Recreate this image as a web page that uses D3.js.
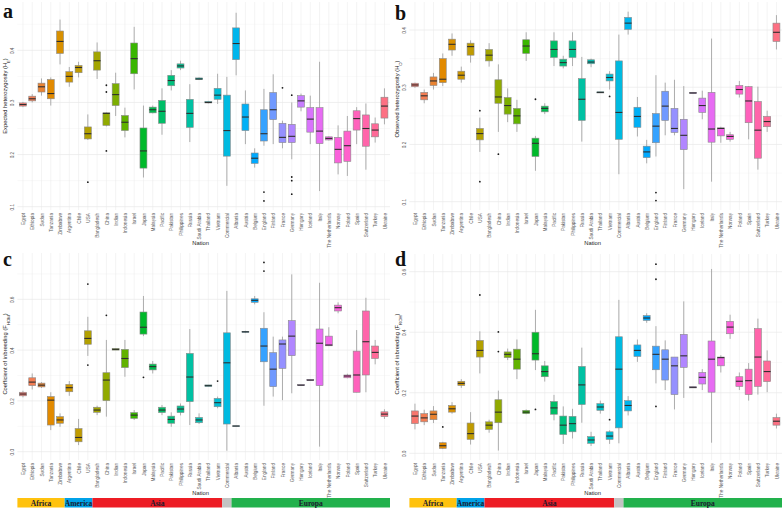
<!DOCTYPE html>
<html>
<head>
<meta charset="utf-8">
<script src="https://cdn.jsdelivr.net/npm/d3@7"></script>
<style>
body { margin: 0; background: #fff; }
text { font-family: "Liberation Sans", Arial, sans-serif; }
</style>
</head>
<body>
<div id="chart"></div>
<script>
var nations = ['Egypt', 'Ethiopia', 'Sudan', 'Tanzania', 'Zimbabwe', 'Argentina', 'Chile', 'USA',
    'Bangladesh', 'China', 'Indian', 'Indonesia', 'Israel', 'Japan', 'Malaysia', 'Pacific',
    'Pakistan', 'Philippines', 'Russia', 'Saudi Arabia', 'Thailand', 'Vietnam', 'Commercial',
    'Albania', 'Austria', 'Belgium', 'England', 'Finland', 'France', 'Germany', 'Hungary',
    'Iceland', 'Italy', 'The Netherlands', 'Norway', 'Poland', 'Spain', 'Switzerland', 'Turkey', 'Ukraine'];

var continents = ['Africa', 'America', 'Asia', '', 'Europa'];
var continentSizes = [5, 3, 14, 1, 17];

// [lower whisker, q1, median, q3, upper whisker] per nation
var expHet = [
    [0.291,0.293,0.296,0.299,0.301], [0.300,0.303,0.307,0.312,0.316], [0.313,0.320,0.330,0.337,0.346],
    [0.294,0.307,0.317,0.344,0.348], [0.373,0.394,0.417,0.437,0.459], [0.330,0.339,0.350,0.359,0.368],
    [0.348,0.357,0.367,0.371,0.378], [0.228,0.230,0.240,0.253,0.277], [0.345,0.362,0.380,0.397,0.415],
    [0.254,0.256,0.279,0.280,0.281], [0.274,0.294,0.315,0.336,0.357], [0.233,0.246,0.262,0.275,0.290],
    [0.325,0.355,0.384,0.414,0.445], [0.156,0.174,0.207,0.251,0.294], [0.279,0.280,0.286,0.291,0.294],
    [0.238,0.260,0.283,0.304,0.327], [0.323,0.332,0.342,0.352,0.362], [0.362,0.366,0.370,0.374,0.380],
    [0.224,0.252,0.279,0.306,0.335], [0.343,0.344,0.345,0.347,0.348], [0.298,0.299,0.300,0.302,0.303],
    [0.297,0.306,0.314,0.327,0.355], [0.140,0.197,0.246,0.314,0.349], [0.352,0.382,0.413,0.443,0.472],
    [0.220,0.246,0.272,0.297,0.323], [0.175,0.183,0.193,0.203,0.212], [0.217,0.226,0.240,0.286,0.326],
    [0.220,0.267,0.286,0.319,0.354], [0.212,0.223,0.233,0.260,0.265], [0.191,0.223,0.235,0.258,0.300],
    [0.283,0.291,0.303,0.313,0.317], [0.220,0.243,0.268,0.290,0.313], [0.130,0.221,0.245,0.290,0.378],
    [0.227,0.228,0.231,0.234,0.235], [0.162,0.184,0.210,0.233,0.256], [0.159,0.187,0.217,0.245,0.274],
    [0.220,0.247,0.269,0.284,0.291], [0.171,0.216,0.250,0.276,0.298], [0.223,0.234,0.247,0.259,0.271],
    [0.258,0.270,0.293,0.310,0.327]
];
var expHetOut = [['USA',0.147], ['China',0.333], ['China',0.320], ['China',0.207], ['England',0.128],
    ['England',0.111], ['France',0.328], ['Germany',0.314], ['Germany',0.157], ['Germany',0.150], ['Germany',0.124]];

var obsHet = [
    [0.299,0.301,0.304,0.307,0.308], [0.272,0.278,0.285,0.291,0.296], [0.296,0.303,0.311,0.318,0.325],
    [0.302,0.308,0.314,0.350,0.359], [0.355,0.365,0.375,0.384,0.394], [0.308,0.314,0.321,0.328,0.336],
    [0.343,0.356,0.371,0.377,0.382], [0.187,0.208,0.219,0.228,0.247], [0.336,0.346,0.356,0.366,0.377],
    [0.222,0.272,0.283,0.313,0.340], [0.239,0.253,0.268,0.282,0.298], [0.222,0.236,0.250,0.263,0.278],
    [0.346,0.359,0.372,0.383,0.396], [0.154,0.179,0.202,0.211,0.215], [0.253,0.257,0.263,0.267,0.272],
    [0.337,0.352,0.366,0.381,0.396], [0.333,0.337,0.343,0.349,0.355], [0.337,0.352,0.366,0.381,0.396],
    [0.205,0.242,0.279,0.315,0.353], [0.335,0.341,0.344,0.348,0.350], [0.290,0.290,0.291,0.292,0.292],
    [0.296,0.311,0.317,0.323,0.328], [0.148,0.209,0.256,0.346,0.392], [0.392,0.401,0.412,0.422,0.432],
    [0.214,0.230,0.249,0.265,0.283], [0.167,0.177,0.187,0.197,0.208], [0.179,0.203,0.232,0.254,0.321],
    [0.216,0.242,0.267,0.293,0.308], [0.216,0.221,0.228,0.263,0.313], [0.122,0.191,0.216,0.244,0.302],
    [0.289,0.289,0.290,0.291,0.291], [0.244,0.256,0.268,0.281,0.294], [0.135,0.204,0.227,0.291,0.385],
    [0.203,0.215,0.228,0.229,0.231], [0.205,0.209,0.214,0.217,0.222], [0.282,0.288,0.296,0.303,0.311],
    [0.209,0.238,0.276,0.301,0.302], [0.156,0.176,0.225,0.275,0.301], [0.222,0.231,0.240,0.249,0.259],
    [0.366,0.380,0.396,0.412,0.426]
];
var obsHetOut = [['USA',0.259], ['USA',0.135], ['China',0.183], ['Japan',0.279], ['Vietnam',0.284],
    ['England',0.116], ['England',0.102]];

var fHom = [
    [0.214,0.220,0.227,0.234,0.240], [0.245,0.260,0.274,0.291,0.308], [0.251,0.255,0.262,0.270,0.274],
    [0.085,0.105,0.203,0.217,0.234], [0.098,0.112,0.125,0.138,0.151], [0.220,0.236,0.252,0.265,0.278],
    [0.026,0.039,0.056,0.091,0.129], [0.377,0.423,0.446,0.476,0.531], [0.144,0.155,0.164,0.175,0.181],
    [0.138,0.201,0.282,0.311,0.440], [0.400,0.400,0.403,0.406,0.406], [0.295,0.331,0.367,0.403,0.440],
    [0.125,0.131,0.144,0.154,0.164], [0.455,0.463,0.490,0.550,0.613], [0.308,0.322,0.335,0.345,0.357],
    [0.144,0.154,0.164,0.175,0.184], [0.098,0.112,0.127,0.140,0.155], [0.143,0.154,0.168,0.180,0.190],
    [0.105,0.197,0.294,0.387,0.483], [0.109,0.114,0.125,0.135,0.151], [0.257,0.257,0.260,0.263,0.263],
    [0.171,0.177,0.193,0.210,0.217], [0.004,0.109,0.350,0.468,0.633], [0.100,0.100,0.101,0.102,0.102],
    [0.467,0.470,0.472,0.474,0.476], [0.580,0.588,0.596,0.602,0.613], [0.181,0.354,0.416,0.486,0.549],
    [0.217,0.256,0.325,0.390,0.453], [0.203,0.328,0.424,0.440,0.453], [0.230,0.378,0.455,0.516,0.698],
    [0.260,0.260,0.262,0.264,0.264], [0.280,0.280,0.282,0.284,0.284], [0.020,0.260,0.427,0.483,0.665],
    [0.417,0.417,0.420,0.455,0.490], [0.545,0.554,0.567,0.577,0.588], [0.289,0.291,0.298,0.302,0.307],
    [0.234,0.234,0.302,0.396,0.479], [0.234,0.302,0.433,0.554,0.606], [0.344,0.367,0.391,0.416,0.440],
    [0.129,0.138,0.148,0.157,0.167]
];
var fHomOut = [['USA',0.660], ['USA',0.341], ['China',0.537], ['Japan',0.293], ['Vietnam',0.278],
    ['England',0.745], ['England',0.711]];

var fRoh = [
    [0.079,0.098,0.123,0.140,0.164], [0.093,0.104,0.117,0.131,0.144], [0.100,0.111,0.129,0.140,0.156],
    [0.014,0.016,0.025,0.035,0.038], [0.131,0.136,0.147,0.158,0.169], [0.216,0.224,0.231,0.238,0.245],
    [0.029,0.046,0.065,0.100,0.136], [0.264,0.318,0.340,0.373,0.403], [0.068,0.079,0.093,0.104,0.111],
    [0.009,0.101,0.136,0.177,0.207], [0.308,0.316,0.327,0.335,0.346], [0.245,0.278,0.311,0.344,0.376],
    [0.129,0.131,0.136,0.142,0.145], [0.275,0.308,0.329,0.400,0.474], [0.237,0.253,0.270,0.289,0.305],
    [0.109,0.129,0.150,0.171,0.193], [0.031,0.062,0.093,0.123,0.155], [0.049,0.071,0.098,0.122,0.147],
    [0.101,0.161,0.226,0.287,0.349], [0.024,0.033,0.044,0.055,0.071], [0.131,0.142,0.153,0.164,0.174],
    [0.031,0.046,0.057,0.071,0.076], [0.033,0.084,0.278,0.385,0.507], [0.125,0.140,0.158,0.174,0.189],
    [0.302,0.320,0.340,0.358,0.376], [0.431,0.439,0.447,0.455,0.463], [0.231,0.276,0.327,0.354,0.420],
    [0.209,0.242,0.311,0.342,0.373], [0.145,0.194,0.289,0.318,0.318], [0.183,0.284,0.322,0.393,0.502],
    [0.216,0.216,0.218,0.220,0.220], [0.209,0.229,0.251,0.267,0.278], [0.035,0.202,0.311,0.371,0.609],
    [0.267,0.289,0.316,0.318,0.324], [0.378,0.395,0.417,0.436,0.458], [0.209,0.221,0.238,0.253,0.267],
    [0.174,0.194,0.240,0.278,0.298], [0.194,0.221,0.318,0.412,0.445], [0.202,0.237,0.270,0.305,0.340],
    [0.082,0.093,0.106,0.118,0.131]
];
var fRohOut = [['Tanzania',0.087], ['USA',0.523], ['China',0.401], ['China',0.336], ['Japan',0.145],
    ['Vietnam',0.111], ['England',0.625], ['England',0.575], ['England',0.155]];

var continentColors = ['#FFC20E', '#00A2E8', '#ED1C24', '#C3C3C3', '#22B14C'];

// ggplot-style hue palette (polar LUV -> sRGB)
function hueColor(h) {
    var c = 100, l = 65;
    var hr = h * Math.PI / 180, U = c * Math.cos(hr), V = c * Math.sin(hr);
    var Xn = 95.047, Yn = 100, Zn = 108.883;
    var un = 4 * Xn / (Xn + 15 * Yn + 3 * Zn), vn = 9 * Yn / (Xn + 15 * Yn + 3 * Zn);
    var Y = Yn * Math.pow((l + 16) / 116, 3);
    var u = U / (13 * l) + un, v = V / (13 * l) + vn;
    var X = 9 * Y * u / (4 * v), Z = 3 * Y / v - 5 * Y - X / 3;
    X /= 100; Y /= 100; Z /= 100;
    var r = 3.240479 * X - 1.537150 * Y - 0.498535 * Z;
    var g = -0.969256 * X + 1.875992 * Y + 0.041556 * Z;
    var b = 0.055648 * X - 0.204043 * Y + 1.057311 * Z;
    var gam = function(t) {
        t = t <= 0.0031308 ? 12.92 * t : 1.055 * Math.pow(t, 1 / 2.4) - 0.055;
        return Math.round(255 * Math.max(0, Math.min(1, t)));
    };
    return d3.rgb(gam(r), gam(g), gam(b)).formatHex();
}
var colors = nations.map((n, i) => hueColor(15 + 360 * i / nations.length));

var panels = [
    {letter: 'a', data: expHet, out: expHetOut, title: 'Expected heterozygosity (H', sub: 'E',
     x0: 0, top: 2, bottom: 210, cal: [0.1, 0.4], calPx: [206.7, 50.3], step: 0.1, titleY: 96, letterY: 18},
    {letter: 'b', data: obsHet, out: obsHetOut, title: 'Observed heterozygosity (H', sub: 'O',
     x0: 392, top: 2, bottom: 210, cal: [0.1, 0.4], calPx: [201.7, 30], step: 0.1, titleY: 99, letterY: 20},
    {letter: 'c', data: fHom, out: fHomOut, title: 'Coefficient of inbreeding (F', sub: 'HOM',
     x0: 0, top: 253, bottom: 460, cal: [0, 0.6], calPx: [451.7, 299.3], step: 0.2, titleY: 354, letterY: 266},
    {letter: 'd', data: fRoh, out: fRohOut, title: 'Coefficient of inbreeding (F', sub: 'ROH',
     x0: 392, top: 254, bottom: 460, cal: [0, 0.6], calPx: [453.3, 271.7], step: 0.2, titleY: 354, letterY: 266}
];

var svg = d3.select('#chart')
    .append('svg')
    .attr('width', 784)
    .attr('height', 508);

svg.append('rect').attr('width', 784).attr('height', 508).attr('fill', '#fff');

panels.forEach(function(p) {
    var g = svg.append('g');
    var left = p.x0 + 17.4, right = p.x0 + 390;

    var xScale = d3.scalePoint().domain(nations).range([left, right]).padding(0.6);
    var yScale = d3.scaleLinear().domain(p.cal).range(p.calPx);
    var step = xScale.step();
    var bw = step * 0.75;

    // grid
    var lowV = yScale.invert(p.bottom), highV = yScale.invert(p.top);
    var half = p.step / 2;
    var ks = d3.range(Math.ceil(lowV / half - 1e-9), Math.floor(highV / half + 1e-9) + 1);
    var majors = ks.filter(k => k % 2 === 0).map(k => +(k * half).toFixed(3));
    var minors = ks.filter(k => k % 2 !== 0).map(k => +(k * half).toFixed(3));

    g.selectAll('.minor').data(minors).enter().append('line')
        .attr('x1', left).attr('x2', right)
        .attr('y1', d => yScale(d)).attr('y2', d => yScale(d))
        .attr('stroke', '#f2f2f2').attr('stroke-width', 0.5);
    g.selectAll('.major').data(majors).enter().append('line')
        .attr('x1', left).attr('x2', right)
        .attr('y1', d => yScale(d)).attr('y2', d => yScale(d))
        .attr('stroke', '#e4e4e4').attr('stroke-width', 0.6);
    g.selectAll('.vgrid').data(nations).enter().append('line')
        .attr('x1', d => xScale(d)).attr('x2', d => xScale(d))
        .attr('y1', p.top).attr('y2', p.bottom)
        .attr('stroke', '#e8e8e8').attr('stroke-width', 0.5);

    // boxes
    var boxes = g.selectAll('.box').data(p.data).enter().append('g');
    boxes.append('line')
        .attr('x1', (d, i) => xScale(nations[i])).attr('x2', (d, i) => xScale(nations[i]))
        .attr('y1', d => yScale(d[0])).attr('y2', d => yScale(d[4]))
        .attr('stroke', '#9a9a9a').attr('stroke-width', 0.8);
    boxes.append('rect')
        .attr('x', (d, i) => xScale(nations[i]) - bw / 2)
        .attr('width', bw)
        .attr('y', d => yScale(d[3]))
        .attr('height', d => Math.max(0.6, yScale(d[1]) - yScale(d[3])))
        .attr('fill', (d, i) => colors[i])
        .attr('stroke', '#8a8a8a').attr('stroke-width', 0.6);
    boxes.append('line')
        .attr('x1', (d, i) => xScale(nations[i]) - bw / 2).attr('x2', (d, i) => xScale(nations[i]) + bw / 2)
        .attr('y1', d => yScale(d[2])).attr('y2', d => yScale(d[2]))
        .attr('stroke', '#2e2e2e').attr('stroke-width', 1.1);

    g.selectAll('.out').data(p.out).enter().append('circle')
        .attr('cx', d => xScale(d[0])).attr('cy', d => yScale(d[1]))
        .attr('r', 0.9).attr('fill', '#1a1a1a');

    // axes
    var xAxis = g.append('g')
        .attr('transform', `translate(0, ${p.bottom})`)
        .call(d3.axisBottom(xScale).tickSize(0));
    xAxis.select('.domain').remove();
    xAxis.selectAll('text')
        .attr('transform', 'rotate(-90)')
        .attr('x', -3).attr('y', 0).attr('dy', '0.35em')
        .style('text-anchor', 'end')
        .attr('font-size', 4.7).attr('fill', '#5a5a5a')
        .style('font-family', '"Liberation Sans", Arial, sans-serif');

    var yAxis = g.append('g')
        .attr('transform', `translate(${p.x0 + 12}, 0)`)
        .call(d3.axisLeft(yScale).tickValues(majors).tickSize(0).tickFormat(d3.format('.1f')));
    yAxis.select('.domain').remove();
    yAxis.selectAll('text')
        .attr('transform', 'rotate(-90)')
        .attr('x', 0).attr('y', 0).attr('dy', '0.35em')
        .style('text-anchor', 'middle')
        .attr('font-size', 4.7).attr('fill', '#5a5a5a')
        .style('font-family', '"Liberation Sans", Arial, sans-serif');

    // titles
    var yt = g.append('text')
        .attr('transform', `translate(${p.x0 + 5}, ${p.titleY}) rotate(-90)`)
        .attr('text-anchor', 'middle')
        .attr('dy', '0.35em')
        .attr('font-size', 5.8)
        .attr('fill', '#222');
    yt.append('tspan').text(p.title);
    yt.append('tspan').attr('baseline-shift', 'sub').attr('font-size', 4.2).text(p.sub);
    yt.append('tspan').text(')');

    g.append('text')
        .attr('x', (left + right) / 2 - 3)
        .attr('y', p.bottom + 35)
        .attr('text-anchor', 'middle')
        .attr('font-size', 5.8)
        .attr('fill', '#222')
        .text('Nation');

    g.append('text')
        .attr('x', p.x0 + 3)
        .attr('y', p.letterY)
        .attr('font-size', 20)
        .attr('font-weight', 'bold')
        .style('font-family', '"Liberation Serif", "Times New Roman", serif')
        .attr('fill', '#111')
        .text(p.letter);

    // continent strip under bottom panels
    if (p.top > 250) {
        var bounds = [left];
        var count = 0;
        continentSizes.forEach(function(n, i) {
            count += n;
            bounds.push(i === continentSizes.length - 1 ? right : xScale(nations[count - 1]) + step / 2);
        });
        var strip = g.selectAll('.cont').data(continents).enter().append('g');
        strip.append('rect')
            .attr('x', (d, i) => bounds[i])
            .attr('width', (d, i) => bounds[i + 1] - bounds[i])
            .attr('y', 498).attr('height', 9.5)
            .attr('fill', (d, i) => continentColors[i]);
        strip.append('text')
            .attr('x', (d, i) => (bounds[i] + bounds[i + 1]) / 2)
            .attr('y', 505.5)
            .attr('text-anchor', 'middle')
            .attr('font-size', 7.5)
            .attr('font-weight', 'bold')
            .style('font-family', '"Liberation Serif", "Times New Roman", serif')
            .attr('fill', '#1a1a2e')
            .text(d => d);
    }
});
</script>
</body>
</html>
